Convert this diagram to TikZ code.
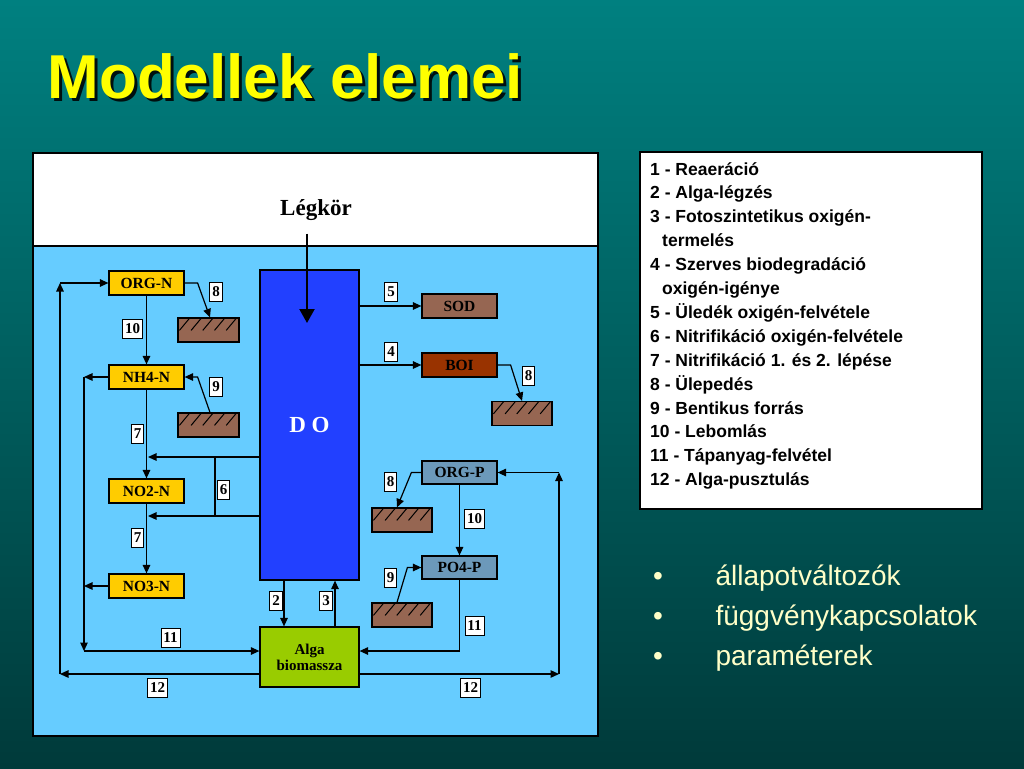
\documentclass[tikz,border=0pt]{standalone}
\usepackage{fontspec}
\setmainfont{Liberation Serif}
\setsansfont{Liberation Sans}
\usepackage{tikz}
\usepackage{xcolor}
\usetikzlibrary{positioning,arrows.meta}
\definecolor{bgtop}{RGB}{0,128,128}
\definecolor{bgbot}{RGB}{0,58,58}
\definecolor{titleyellow}{RGB}{255,255,0}
\definecolor{bulletyellow}{RGB}{255,255,200}
\definecolor{paneblue}{RGB}{102,204,255}
\definecolor{doblue}{RGB}{34,64,255}
\definecolor{stateyellow}{RGB}{255,204,0}
\definecolor{mudbrown}{RGB}{150,102,82}
\definecolor{boired}{RGB}{153,51,0}
\definecolor{phosgrey}{RGB}{108,153,186}
\definecolor{algagreen}{RGB}{153,204,0}
\newcommand{\fsz}[2]{\fontsize{#1}{#2}\selectfont}

\begin{document}
\begin{tikzpicture}[x=1pt, y=-1pt,
  statebox/.style={draw, fill=stateyellow, minimum width=75pt, minimum height=24pt, inner sep=0pt, font=\bfseries\fsz{15.5}{16}, line width=1.2pt},
  oxbox/.style={statebox, fill=mudbrown},
  phosbox/.style={statebox, fill=phosgrey, minimum height=23pt},
  sediment/.style={draw, fill=mudbrown, minimum width=61pt, minimum height=24pt, inner sep=0pt, line width=1.2pt},
  numlabel/.style={draw, fill=white, inner xsep=2.5pt, inner ysep=0pt, minimum height=19pt, font=\bfseries\fsz{15}{15}, line width=0.8pt},
  line/.style={-{Triangle[length=8.5pt,width=7.5pt]}, line width=1.2pt},
  plain/.style={line width=1.2pt},
  bigarrow/.style={-{Triangle[length=14pt,width=15pt]}, line width=2.2pt}
]
  \useasboundingbox (0,0) rectangle (1024,768);
  \shade[top color=bgtop, bottom color=bgbot] (0,0) rectangle (1024,768);

  \node[anchor=base west, text=black!75!bgbot, font=\sffamily\bfseries\fsz{62}{70}] (titleshade) at (47,101) {Modellek elemei};
  \node[anchor=base west, text=titleyellow, font=\sffamily\bfseries\fsz{62}{70}] (title) at (44,98) {Modellek elemei};

  % panel
  \fill[white] (33,153) rectangle (598,246);
  \fill[paneblue] (33,246) rectangle (598,736);
  \draw[line width=1.2pt] (33,153) rectangle (598,736) (33,246) -- (598,246);

  \node[anchor=base, font=\bfseries\fsz{23}{23}] (legkor) at (316,215) {Légkör};

  \node[draw, fill=doblue, minimum width=99pt, minimum height=310pt, line width=1.2pt, text=white, font=\bfseries\fsz{23}{23}] (do) at (309.5,425) {D O};
  \node[draw, fill=algagreen, minimum width=99pt, minimum height=60pt, line width=1.2pt, align=center, font=\bfseries\fsz{15}{16}] (alga) at (309.5,657) {Alga\\biomassza};

  \node[statebox] (orgn) at (146.5,283) {ORG-N};
  \node[statebox] (nh4n) at (146.5,377) {NH4-N};
  \node[statebox] (no2n) at (146.5,491) {NO2-N};
  \node[statebox] (no3n) at (146.5,586) {NO3-N};

  \node[oxbox] (sod) at (459.5,306) {SOD};
  \node[oxbox, fill=boired] (boi) at (459.5,365) {BOI};
  \node[phosbox] (orgp) at (459.5,472.5) {ORG-P};
  \node[phosbox] (po4p) at (459.5,567.5) {PO4-P};

  \node[sediment] (sed1) at (208.5,330) {};
  \node[sediment] (sed2) at (208.5,425) {};
  \node[sediment, minimum width=60pt] (sed3) at (522,413.5) {};
  \node[sediment, minimum width=60pt] (sed4) at (402,520) {};
  \node[sediment, minimum width=60pt] (sed5) at (402,615) {};
  \foreach \s in {sed1,sed2,sed3,sed4,sed5}
    \foreach \i in {0,...,4}
      \draw[line width=1pt] ([xshift={2+11.7*\i}, yshift=-13pt]\s.north west) -- ([xshift={12+11.7*\i}, yshift=-1pt]\s.north west);

  % corners of the loops
  \coordinate (reaer) at (307,323);
  \coordinate (upl) at (84,651);
  \coordinate (dl) at (60,674);
  \coordinate (ul) at (60,283);
  \coordinate (dr) at (559,674);
  \coordinate (ur) at (559,472.5);
  \coordinate (nit1) at (148,457);
  \coordinate (nit2) at (148,516);
  \coordinate (nitv) at (215,0);

  \draw[bigarrow, shorten <=10pt] (legkor.south -| reaer) -- (reaer);

  \draw[line] (orgn.east) -- ++(13,0) -- ([xshift=1.5pt]sed1.north);
  \draw[line] (orgn) -- (nh4n);
  \draw[line] (nh4n) -- (no2n);
  \draw[line] (no2n) -- (no3n);
  \draw[line] ([xshift=1.5pt]sed2.north) -- ([xshift=13pt]nh4n.east) -- (nh4n.east);
  \draw[line] (do.west |- nit1) -- (nit1);
  \draw[line] (do.west |- nit2) -- (nit2);
  \draw[plain] (nit1 -| nitv) -- (nit2 -| nitv);
  \draw[line] (nh4n.west) -- (nh4n.west -| upl);
  \draw[line] (no3n.west) -- (no3n.west -| upl);
  \draw[line] (nh4n.west -| upl) -- (upl);
  \draw[line] (upl) -- (alga.west |- upl);
  \draw[line] (alga.west |- dl) -- (dl);
  \draw[line] (dl) -- (ul);
  \draw[line] (ul) -- (orgn.west);

  \draw[line] (do.east |- sod) -- (sod.west);
  \draw[line] (do.east |- boi) -- (boi.west);
  \draw[line] (boi.east) -- ++(13,0) -- (sed3.north);
  \draw[line] (orgp.west) -- ++(-10,0) -- ([xshift=-5pt]sed4.north);
  \draw[line] (orgp) -- (po4p);
  \draw[line] ([xshift=-5pt]sed5.north) -- ([xshift=-14pt]po4p.west) -- (po4p.west);
  \draw[line] (po4p.south) |- (alga.east |- upl);
  \draw[line] (alga.east |- dr) -- (dr);
  \draw[line] (dr) -- (ur);
  \draw[line] (ur) -- (orgp.east);

  \draw[line] ([xshift=-25.5pt]do.south) -- ([xshift=-25.5pt]alga.north);
  \draw[line] ([xshift=25.5pt]alga.north) -- ([xshift=25.5pt]do.south);

  \node[numlabel] (n8a) at (216,292) {8};
  \node[numlabel] (n10a) at (132.5,328.5) {10};
  \node[numlabel] (n9a) at (216,387) {9};
  \node[numlabel] (n7a) at (137.5,433.5) {7};
  \node[numlabel] (n6) at (223.5,490) {6};
  \node[numlabel] (n7b) at (137.5,538) {7};
  \node[numlabel] (n11a) at (170.5,637.5) {11};
  \node[numlabel] (n12a) at (157.5,687.5) {12};
  \node[numlabel] (n2) at (276,601) {2};
  \node[numlabel] (n3) at (326,601) {3};
  \node[numlabel] (n5) at (391,292) {5};
  \node[numlabel] (n4) at (391,352) {4};
  \node[numlabel] (n8b) at (528.5,376) {8};
  \node[numlabel] (n8c) at (390.5,482) {8};
  \node[numlabel] (n10b) at (474.5,519) {10};
  \node[numlabel] (n9b) at (390.5,578) {9};
  \node[numlabel] (n11b) at (474.5,625.5) {11};
  \node[numlabel] (n12b) at (470.5,688) {12};

  % legend
  \draw[fill=white, line width=1.2pt] (640,152) rectangle (982,509);
  \node[anchor=north west, align=left, inner sep=0pt, font=\sffamily\bfseries\fsz{17.5}{23.9}] (legend) at (650,162) {1 - Reaeráció\\2 - Alga-légzés\\3 - Fotoszintetikus oxigén-\\\hspace*{12pt}termelés\\4 - Szerves biodegradáció\\\hspace*{12pt}oxigén-igénye\\5 - Üledék oxigén-felvétele\\6 - Nitrifikáció oxigén-felvétele\\7 - Nitrifikáció 1. és 2. lépése\\8 - Ülepedés\\9 - Bentikus forrás\\10 - Lebomlás\\11 - Tápanyag-felvétel\\12 - Alga-pusztulás};

  \node[anchor=base, text=bulletyellow, font=\sffamily\fsz{28}{28}] (dot1) at (658,585) {•};
  \node[anchor=base, text=bulletyellow, font=\sffamily\fsz{28}{28}] (dot2) at (658,625) {•};
  \node[anchor=base, text=bulletyellow, font=\sffamily\fsz{28}{28}] (dot3) at (658,665) {•};
  \node[anchor=base west, text=bulletyellow, font=\sffamily\fsz{28}{28}] (item1) at (712,585) {állapotváltozók};
  \node[anchor=base west, text=bulletyellow, font=\sffamily\fsz{28}{28}] (item2) at (712,625) {függvénykapcsolatok};
  \node[anchor=base west, text=bulletyellow, font=\sffamily\fsz{28}{28}] (item3) at (712,665) {paraméterek};
\end{tikzpicture}
\end{document}
